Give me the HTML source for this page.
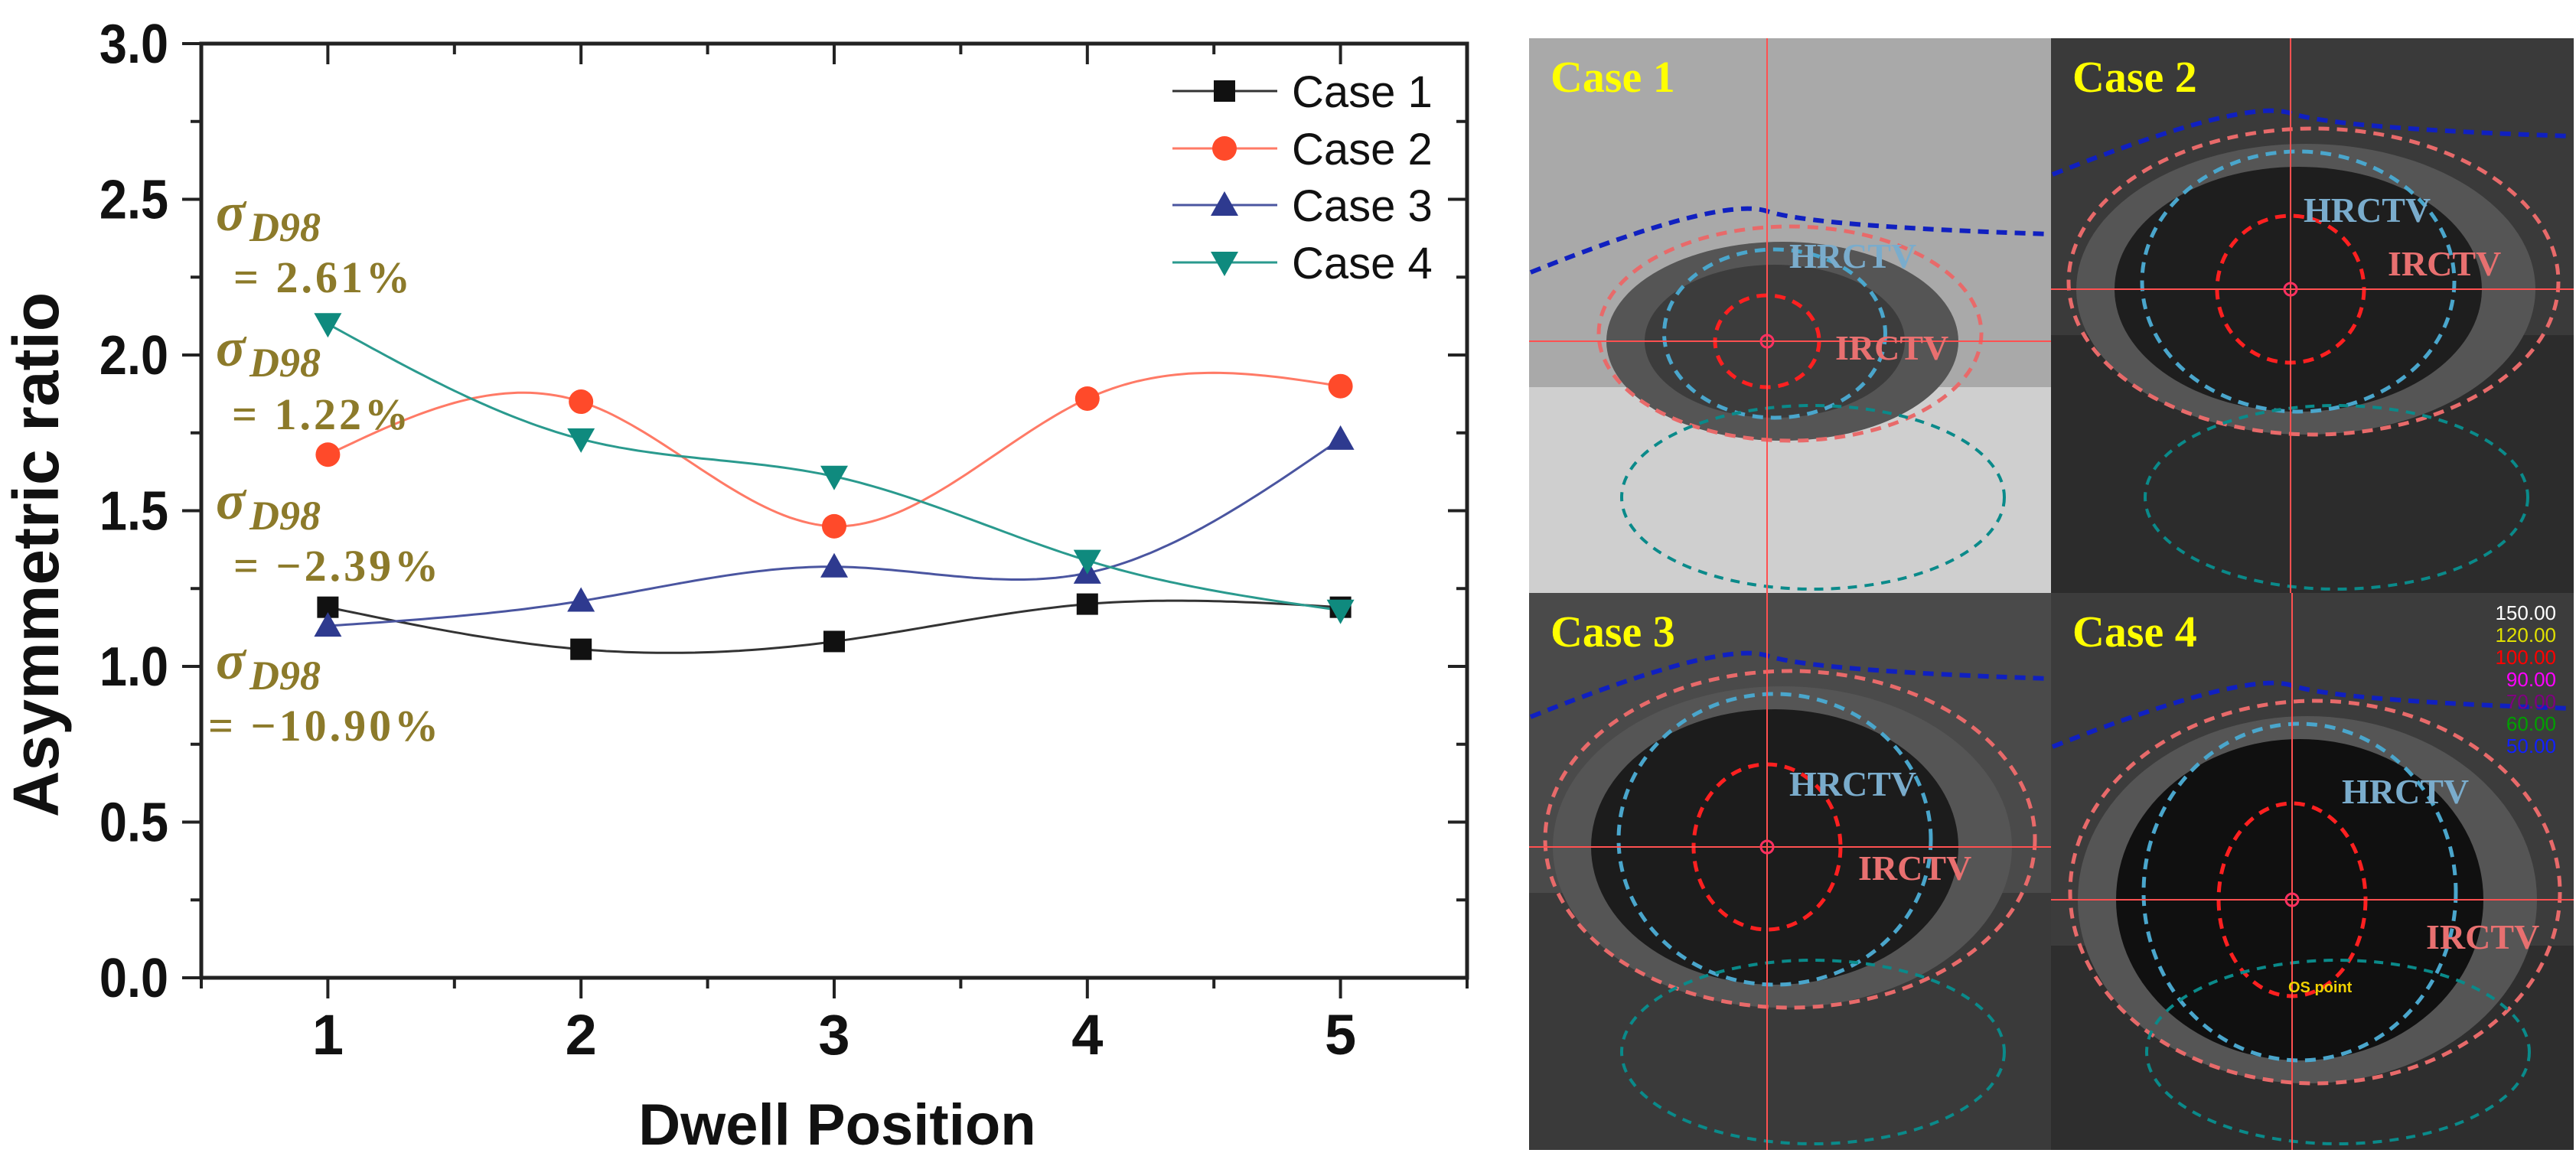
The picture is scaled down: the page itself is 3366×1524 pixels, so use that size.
<!DOCTYPE html>
<html><head><meta charset="utf-8"><style>
html,body{margin:0;padding:0;background:#fff;overflow:hidden;width:3366px;height:1524px;}
svg{display:block;}
</style></head>
<body>
<svg id="fig" width="3366" height="1524" viewBox="0 0 3366 1524" xmlns="http://www.w3.org/2000/svg">
<defs><clipPath id="qclip"><rect x="0" y="0" width="683" height="728"/></clipPath></defs>
<g id="chart"></g>
<g id="panel"></g>
</svg>
<script>
const categories = [1, 2, 3, 4, 5];
const case1 = [1.19, 1.055, 1.08, 1.20, 1.19];
const case2 = [1.68, 1.85, 1.45, 1.86, 1.90];
const case3 = [1.13, 1.21, 1.32, 1.30, 1.73];
const case4 = [2.10, 1.73, 1.61, 1.34, 1.18];
const seriesNames = ["Case 1", "Case 2", "Case 3", "Case 4"];
const yTicks = ["0.0", "0.5", "1.0", "1.5", "2.0", "2.5", "3.0"];
const xTicks = ["1", "2", "3", "4", "5"];
const annoValues = ["= 2.61%", "= 1.22%", "= \u22122.39%", "= \u221210.90%"];

const NS = "http://www.w3.org/2000/svg";
const chart = document.getElementById('chart');
const L = 263, R = 1917, T = 57, B = 1278;
const X0 = 0.5, X1 = 5.5, Y0 = 0, Y1 = 3;
function xs(v){ return L + (v - X0) / (X1 - X0) * (R - L); }
function ys(v){ return B - (v - Y0) / (Y1 - Y0) * (B - T); }
function mk(tag, attrs, parent){
  const e = document.createElementNS(NS, tag);
  for (const k in attrs) e.setAttribute(k, attrs[k]);
  (parent || chart).appendChild(e);
  return e;
}
let fr = mk('rect', {x:L, y:T, width:R-L, height:B-T, fill:'none', stroke:'#222', 'stroke-width':5});


for (let i = 0; i <= 12; i++) {
  const v = i * 0.25, y = ys(v), major = i % 2 === 0;
  const len = major ? 25 : 14;
  let t = mk('line', {x1:L-len, x2:L, y1:y, y2:y, stroke:'#222', 'stroke-width':4});
  
  
  mk('line', {x1:R-len, x2:R, y1:y, y2:y, stroke:'#222', 'stroke-width':4});
}
yTicks.forEach((lab, i) => {
  const v = parseFloat(lab);
  let t = mk('text', {x:220, y:ys(v)+25, 'text-anchor':'end', 'font-family':'Liberation Sans, sans-serif', 'font-weight':'bold', 'font-size':72, fill:'#111', transform:`translate(220 0) scale(0.9 1) translate(-220 0)`});
  t.textContent = lab;
  
  
});
for (let i = 0; i <= 10; i++) {
  const v = 0.5 + i * 0.5, x = xs(v), major = i % 2 === 1;
  const len = major ? 27 : 14;
  let t = mk('line', {x1:x, x2:x, y1:B, y2:B+len, stroke:'#222', 'stroke-width':4});
  
  
  mk('line', {x1:x, x2:x, y1:T, y2:T+len, stroke:'#222', 'stroke-width':4});
}
xTicks.forEach((lab, i) => {
  let t = mk('text', {x:xs(categories[i]), y:1378, 'text-anchor':'middle', 'font-family':'Liberation Sans, sans-serif', 'font-weight':'bold', 'font-size':74, fill:'#111'});
  t.textContent = lab;
  
  
});
let yt = mk('text', {x:0, y:0, 'text-anchor':'middle', 'font-family':'Liberation Sans, sans-serif', 'font-weight':'bold', 'font-size':84, fill:'#111', transform:'translate(76 725) rotate(-90)'});
yt.textContent = 'Asymmetric ratio';


let xt = mk('text', {x:1094, y:1496, 'text-anchor':'middle', 'font-family':'Liberation Sans, sans-serif', 'font-weight':'bold', 'font-size':76, fill:'#111'});
xt.textContent = 'Dwell Position';



function spline(xv, yv){
  const n = xv.length, h = [], a = [], l = [1], mu = [0], z = [0], c = new Array(n).fill(0), b = [], d = [];
  for (let i = 0; i < n-1; i++) h.push(xv[i+1]-xv[i]);
  for (let i = 1; i < n-1; i++) a[i] = 3/h[i]*(yv[i+1]-yv[i]) - 3/h[i-1]*(yv[i]-yv[i-1]);
  for (let i = 1; i < n-1; i++) { l[i] = 2*(xv[i+1]-xv[i-1]) - h[i-1]*mu[i-1]; mu[i] = h[i]/l[i]; z[i] = (a[i]-h[i-1]*z[i-1])/l[i]; }
  for (let j = n-2; j >= 0; j--) { c[j] = j > 0 ? z[j] - mu[j]*c[j+1] : 0; b[j] = (yv[j+1]-yv[j])/h[j] - h[j]*(c[j+1]+2*c[j])/3; d[j] = (c[j+1]-c[j])/(3*h[j]); }
  const pts = [];
  for (let j = 0; j < n-1; j++) for (let s = 0; s < 40; s++) { const t = s/40*h[j]; pts.push([xv[j]+t, yv[j]+b[j]*t+c[j]*t*t+d[j]*t*t*t]); }
  pts.push([xv[n-1], yv[n-1]]);
  return pts;
}
const allSeries = [case1, case2, case3, case4];
const colors = ['#111111', '#ff4a2a', '#2e3a8f', '#0f8a7e'];
const lineColors = ['#333333', '#ff7a66', '#4a55a0', '#2a9a8e'];
const markers = ['square', 'circle', 'up', 'down'];
function marker(type, x, y, col){
  let e;
  if (type === 'square') e = mk('rect', {x:x-14, y:y-14, width:28, height:28, fill:col});
  else if (type === 'circle') e = mk('circle', {cx:x, cy:y, r:16, fill:col});
  else if (type === 'up') e = mk('polygon', {points:`${x-18},${y+14} ${x+18},${y+14} ${x},${y-18}`, fill:col});
  else e = mk('polygon', {points:`${x-18},${y-14} ${x+18},${y-14} ${x},${y+18}`, fill:col});
  return e;
}
allSeries.forEach((vals, si) => {
  const pts = spline(categories, vals);
  const d = pts.map((p, i) => (i ? 'L' : 'M') + xs(p[0]).toFixed(1) + ' ' + ys(p[1]).toFixed(1)).join(' ');
  let p = mk('path', {d:d, fill:'none', stroke:lineColors[si], 'stroke-width':3});
  
  
});
allSeries.forEach((vals, si) => {
  vals.forEach((v, i) => {
    let m = marker(markers[si], xs(categories[i]), ys(v), colors[si]);
    
    
  });
});
const legY = [119, 194, 268, 343];
seriesNames.forEach((nm, i) => {
  let g = mk('g', {});
  
  
  mk('line', {x1:1532, x2:1669, y1:legY[i], y2:legY[i], stroke:lineColors[i], 'stroke-width':3}, g);
  g.appendChild(marker(markers[i], 1600, legY[i], colors[i]));
  let t = mk('text', {x:1688, y:legY[i]+21, 'font-family':'Liberation Sans, sans-serif', 'font-size':58, fill:'#111'}, g);
  t.textContent = nm;
});
const sigY = [301, 478, 678, 887];
const eqY = [382, 561, 759, 968];
const eqX = [305, 303, 305, 272];
annoValues.forEach((val, i) => {
  let g = mk('g', {fill:'#8c7a2a', 'font-family':'Liberation Serif, DejaVu Serif, serif', 'font-weight':'bold'});
  
  
  let s = mk('text', {x:282, y:sigY[i], 'font-size':72, 'font-style':'italic'}, g);
  s.textContent = 'σ';
  let sub = mk('text', {x:326, y:sigY[i]+14, 'font-size':54, 'font-style':'italic'}, g);
  sub.textContent = 'D98';
  let e = mk('text', {x:eqX[i], y:eqY[i], 'font-size':58, 'letter-spacing':4}, g);
  e.textContent = val;
});

const panel = document.getElementById('panel');
function pk(tag, attrs, parent){ const e = document.createElementNS(NS, tag); for (const k in attrs) e.setAttribute(k, attrs[k]); parent.appendChild(e); return e; }
const quads = [
  {name:'Case 1', x:1998, y:50, bg:'#a9a9a9', low:'#cfcfcf', eye:'#3c3c3c', cx:311, cy:396, rx:170, ry:100, hx:340, hy:300, ix:400, iy:420},
  {name:'Case 2', x:2680, y:50, bg:'#3a3a3a', low:'#2c2c2c', eye:'#1e1e1e', cx:313, cy:328, rx:240, ry:160, hx:330, hy:240, ix:440, iy:310},
  {name:'Case 3', x:1998, y:775, bg:'#4a4a4a', low:'#3a3a3a', eye:'#1c1c1c', cx:311, cy:332, rx:240, ry:180, hx:340, hy:265, ix:430, iy:375},
  {name:'Case 4', x:2680, y:775, bg:'#3c3c3c', low:'#2e2e2e', eye:'#101010', cx:315, cy:401, rx:240, ry:210, hx:380, hy:275, ix:490, iy:465}
];
function clampE(cx, cy, rx, ry){
  rx = Math.min(rx, cx - 2, 681 - cx);
  ry = Math.min(ry, cy - 2, 726 - cy);
  return {cx:cx, cy:cy, rx:Math.max(rx, 5), ry:Math.max(ry, 5)};
}
quads.forEach((q, i) => {
  const outer = pk('g', {transform:`translate(${q.x} ${q.y})`}, panel);
  const g = pk('g', {'clip-path':'url(#qclip)'}, outer);
  
  
  pk('rect', {x:0, y:0, width:683, height:728, fill:q.bg}, g);
  pk('rect', {x:0, y:q.cy+60, width:683, height:728-q.cy-60, fill:q.low}, g);
  const e1 = clampE(q.cx+20, q.cy, q.rx+60, q.ry+30);
  pk('ellipse', Object.assign({fill:'#555'}, e1), g);
  pk('ellipse', {cx:q.cx+10, cy:q.cy, rx:q.rx, ry:q.ry, fill:q.eye}, g);
  const e2 = clampE(q.cx+30, q.cy-10, q.rx+80, q.ry+40);
  pk('ellipse', Object.assign({fill:'none', stroke:'#e86a6a', 'stroke-width':5, 'stroke-dasharray':'14 10'}, e2), g);
  pk('ellipse', {cx:q.cx+10, cy:q.cy-10, rx:q.rx*0.85, ry:q.ry+10, fill:'none', stroke:'#4aa6cc', 'stroke-width':5, 'stroke-dasharray':'14 10'}, g);
  pk('ellipse', {cx:q.cx, cy:q.cy, rx:q.rx*0.4, ry:q.ry*0.6, fill:'none', stroke:'#ff2020', 'stroke-width':5, 'stroke-dasharray':'14 10'}, g);
  pk('path', {d:`M2 ${q.cy-q.ry+10} Q ${q.cx-60} ${q.cy-q.ry-90} ${q.cx} ${q.cy-q.ry-70} T 681 ${q.cy-q.ry-40}`, fill:'none', stroke:'#1020c0', 'stroke-width':6, 'stroke-dasharray':'14 10'}, g);
  const tcy = Math.min(q.cy+q.ry+170, 600);
  const e3 = clampE(q.cx+60, tcy, 250, 120);
  pk('ellipse', Object.assign({fill:'none', stroke:'#0a8a8a', 'stroke-width':4, 'stroke-dasharray':'12 10'}, e3), g);
  pk('line', {x1:q.cx, x2:q.cx, y1:0, y2:728, stroke:'#ff5050', 'stroke-width':2}, g);
  pk('line', {x1:0, x2:683, y1:q.cy, y2:q.cy, stroke:'#ff5050', 'stroke-width':2}, g);
  pk('circle', {cx:q.cx, cy:q.cy, r:8, fill:'none', stroke:'#ff3060', 'stroke-width':3}, g);
  let h = pk('text', {x:q.hx, y:q.hy, 'font-family':'Liberation Serif, serif', 'font-weight':'bold', 'font-size':46, fill:'#7aaccc'}, g);
  h.textContent = 'HRCTV';
  let ir = pk('text', {x:q.ix, y:q.iy, 'font-family':'Liberation Serif, serif', 'font-weight':'bold', 'font-size':46, fill:'#e87070'}, g);
  ir.textContent = 'IRCTV';
  let t = pk('text', {x:28, y:70, 'font-family':'Liberation Serif, serif', 'font-weight':'bold', 'font-size':58, fill:'#ffff00'}, g);
  t.textContent = q.name;
  
  
});
const doseLabels = ['150.00', '120.00', '100.00', '90.00', '70.00', '60.00', '50.00'];
const doseColors = ['#ffffff', '#e0e000', '#ff0000', '#ff00ff', '#800080', '#00a000', '#1020ff'];
doseLabels.forEach((d, i) => {
  let t = pk('text', {x:3340, y:810+i*29, 'text-anchor':'end', 'font-family':'Liberation Sans, sans-serif', 'font-size':26, fill:doseColors[i]}, panel);
  t.textContent = d;
  
  
});
let os = pk('text', {x:2990, y:1297, 'font-family':'Liberation Sans, sans-serif', 'font-weight':'bold', 'font-size':20, fill:'#f0d000'}, panel);
os.textContent = 'OS point';
</script>
</body></html>
